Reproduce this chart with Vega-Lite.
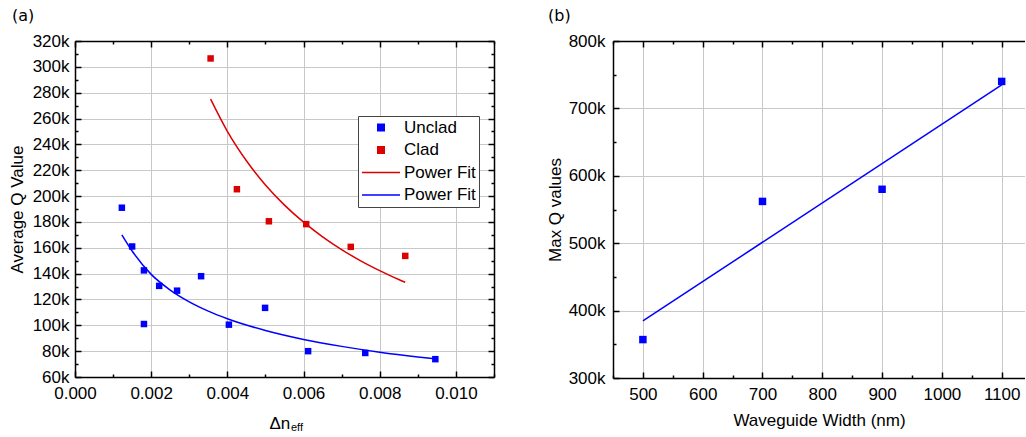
{
  "$schema": "https://vega.github.io/schema/vega-lite/v6.json",
  "background": "white",
  "padding": {"left": 8, "top": 8, "right": 0, "bottom": 0},
  "datasets": {
    "a_pts": [
      {"dn": 0.00123, "q": 191000, "series": "Unclad"},
      {"dn": 0.00150, "q": 161000, "series": "Unclad"},
      {"dn": 0.00181, "q": 142500, "series": "Unclad"},
      {"dn": 0.00181, "q": 101000, "series": "Unclad"},
      {"dn": 0.00221, "q": 130500, "series": "Unclad"},
      {"dn": 0.00268, "q": 126800, "series": "Unclad"},
      {"dn": 0.00331, "q": 138000, "series": "Unclad"},
      {"dn": 0.00404, "q": 100500, "series": "Unclad"},
      {"dn": 0.00499, "q": 113500, "series": "Unclad"},
      {"dn": 0.00612, "q": 80000, "series": "Unclad"},
      {"dn": 0.00762, "q": 78600, "series": "Unclad"},
      {"dn": 0.00946, "q": 73800, "series": "Unclad"},
      {"dn": 0.00356, "q": 306500, "series": "Clad"},
      {"dn": 0.00425, "q": 205300, "series": "Clad"},
      {"dn": 0.00509, "q": 180500, "series": "Clad"},
      {"dn": 0.00607, "q": 178300, "series": "Clad"},
      {"dn": 0.00724, "q": 160700, "series": "Clad"},
      {"dn": 0.00867, "q": 153700, "series": "Clad"}
    ],
    "a_fit": [
      {"dn": 0.00356, "q": 275000, "series": "Power Fit"},
      {"dn": 0.0040, "q": 250100, "series": "Power Fit"},
      {"dn": 0.0045, "q": 227300, "series": "Power Fit"},
      {"dn": 0.0050, "q": 208600, "series": "Power Fit"},
      {"dn": 0.0055, "q": 193000, "series": "Power Fit"},
      {"dn": 0.0060, "q": 179800, "series": "Power Fit"},
      {"dn": 0.0065, "q": 168500, "series": "Power Fit"},
      {"dn": 0.0070, "q": 158600, "series": "Power Fit"},
      {"dn": 0.0075, "q": 149900, "series": "Power Fit"},
      {"dn": 0.0080, "q": 142300, "series": "Power Fit"},
      {"dn": 0.0085, "q": 135400, "series": "Power Fit"},
      {"dn": 0.00867, "q": 133300, "series": "Power Fit"},
      {"dn": 0.00123, "q": 170000, "series": "Power Fit "},
      {"dn": 0.0015, "q": 157500, "series": "Power Fit "},
      {"dn": 0.0020, "q": 139400, "series": "Power Fit "},
      {"dn": 0.0025, "q": 127300, "series": "Power Fit "},
      {"dn": 0.0030, "q": 118200, "series": "Power Fit "},
      {"dn": 0.0035, "q": 111000, "series": "Power Fit "},
      {"dn": 0.0040, "q": 105100, "series": "Power Fit "},
      {"dn": 0.0050, "q": 96000, "series": "Power Fit "},
      {"dn": 0.0060, "q": 89100, "series": "Power Fit "},
      {"dn": 0.0070, "q": 83700, "series": "Power Fit "},
      {"dn": 0.0080, "q": 79200, "series": "Power Fit "},
      {"dn": 0.0090, "q": 75500, "series": "Power Fit "},
      {"dn": 0.00946, "q": 74000, "series": "Power Fit "}
    ],
    "a_sub": [
      {"label": "eff"}
    ],
    "b_pts": [
      {"w": 500, "q": 357000},
      {"w": 700, "q": 562000},
      {"w": 900, "q": 580000},
      {"w": 1100, "q": 740000}
    ],
    "b_fit": [
      {"w": 500, "q": 384700},
      {"w": 1100, "q": 734800}
    ]
  },
  "hconcat": [
    {
      "width": 419,
      "height": 336,
      "title": {"text": "(a)", "anchor": "start", "frame": "group", "dx": -63, "font": "DejaVu Sans", "fontSize": 16, "fontWeight": "normal", "color": "black", "offset": 8},
      "layer": [
        {
          "data": {"name": "a_pts"},
          "mark": {"type": "point", "filled": true, "opacity": 1},
          "encoding": {
            "x": {
              "field": "dn", "type": "quantitative",
              "scale": {"domain": [0, 0.011], "nice": false, "zero": false},
              "axis": {
                "orient": "bottom",
                "values": [0, 0.001, 0.002, 0.003, 0.004, 0.005, 0.006, 0.007, 0.008, 0.009, 0.010, 0.011],
                "labelExpr": "round(datum.value*1000) % 2 == 0 ? format(datum.value, '.3f') : ''",
                "grid": true,
                "gridOpacity": {"condition": {"test": "round(datum.value*1000) % 2 == 0", "value": 1}, "value": 0},
                "tickSize": {"condition": {"test": "round(datum.value*1000) % 2 == 0", "value": -6}, "value": -3},
                "labelPadding": 14,
                "labelFlush": false,
                "title": "Δn",
                "titleAlign": "left",
                "titleBaseline": "alphabetic",
                "titleX": 194,
                "titleY": 51
              }
            },
            "y": {
              "field": "q", "type": "quantitative",
              "scale": {"domain": [60000, 320000], "nice": false, "zero": false},
              "axis": {
                "orient": "left",
                "values": [60000, 70000, 80000, 90000, 100000, 110000, 120000, 130000, 140000, 150000, 160000, 170000, 180000, 190000, 200000, 210000, 220000, 230000, 240000, 250000, 260000, 270000, 280000, 290000, 300000, 310000, 320000],
                "labelExpr": "round(datum.value/10000) % 2 == 0 ? format(datum.value/1000, 'd') + 'k' : ''",
                "grid": true,
                "gridOpacity": {"condition": {"test": "round(datum.value/10000) % 2 == 0", "value": 1}, "value": 0},
                "tickSize": {"condition": {"test": "round(datum.value/10000) % 2 == 0", "value": -6}, "value": -3},
                "labelPadding": 12,
                "labelFlush": false,
                "title": "Average Q Value",
                "titlePadding": 6
              }
            },
            "color": {
              "field": "series", "type": "nominal",
              "scale": {"domain": ["Unclad", "Clad", "Power Fit", "Power Fit "], "range": ["#0000ff", "#dd0000", "#dd0000", "#0000ff"]},
              "legend": {
                "orient": "none", "legendX": 283, "legendY": 75,
                "title": null,
                "strokeColor": "#444444", "fillColor": "white",
                "padding": 3, "rowPadding": 4.5, "clipHeight": 17,
                "labelOffset": 3, "symbolStrokeWidth": 1.5,
                "labelFont": "Liberation Sans", "labelFontSize": 17, "labelColor": "black"
              }
            },
            "shape": {
              "field": "series", "type": "nominal",
              "scale": {"domain": ["Unclad", "Clad", "Power Fit", "Power Fit "], "range": ["square", "square", "stroke", "stroke"]},
              "legend": {
                "orient": "none", "legendX": 283, "legendY": 75,
                "title": null,
                "strokeColor": "#444444", "fillColor": "white",
                "padding": 3, "rowPadding": 4.5, "clipHeight": 17,
                "labelOffset": 3, "symbolStrokeWidth": 1.5,
                "labelFont": "Liberation Sans", "labelFontSize": 17, "labelColor": "black"
              }
            },
            "size": {
              "field": "series", "type": "nominal",
              "scale": {"type": "ordinal", "domain": ["Unclad", "Clad", "Power Fit", "Power Fit "], "range": [42, 42, 1444, 1444]},
              "legend": {
                "orient": "none", "legendX": 283, "legendY": 75,
                "title": null,
                "strokeColor": "#444444", "fillColor": "white",
                "padding": 3, "rowPadding": 4.5, "clipHeight": 17,
                "labelOffset": 3, "symbolStrokeWidth": 1.5,
                "labelFont": "Liberation Sans", "labelFontSize": 17, "labelColor": "black"
              }
            }
          }
        },
        {
          "data": {"name": "a_fit"},
          "mark": {"type": "line", "strokeWidth": 1.5, "interpolate": "monotone"},
          "encoding": {
            "x": {
              "field": "dn", "type": "quantitative",
              "axis": {
                "orient": "top",
                "values": [0, 0.001, 0.002, 0.003, 0.004, 0.005, 0.006, 0.007, 0.008, 0.009, 0.010, 0.011],
                "labels": false, "grid": false, "title": null,
                "tickSize": {"condition": {"test": "round(datum.value*1000) % 2 == 0", "value": -6}, "value": -3}
              }
            },
            "y": {
              "field": "q", "type": "quantitative",
              "axis": {
                "orient": "right",
                "values": [60000, 70000, 80000, 90000, 100000, 110000, 120000, 130000, 140000, 150000, 160000, 170000, 180000, 190000, 200000, 210000, 220000, 230000, 240000, 250000, 260000, 270000, 280000, 290000, 300000, 310000, 320000],
                "labels": false, "grid": false, "title": null,
                "tickSize": {"condition": {"test": "round(datum.value/10000) % 2 == 0", "value": -6}, "value": -3}
              }
            },
            "color": {"field": "series", "type": "nominal"}
          }
        },
        {
          "data": {"name": "a_sub"},
          "mark": {"type": "text", "font": "Liberation Sans", "fontSize": 11, "align": "left", "baseline": "alphabetic", "color": "black"},
          "encoding": {
            "text": {"field": "label"},
            "x": {"datum": 0.00567, "type": "quantitative", "axis": null},
            "y": {"datum": 18000, "type": "quantitative", "axis": null}
          }
        }
      ],
      "resolve": {"axis": {"x": "independent", "y": "independent"}}
    },
    {
      "width": 412,
      "height": 337,
      "title": {"text": "(b)", "anchor": "start", "frame": "group", "dx": -65, "font": "DejaVu Sans", "fontSize": 16, "fontWeight": "normal", "color": "black", "offset": 8},
      "layer": [
        {
          "data": {"name": "b_pts"},
          "mark": {"type": "point", "shape": "square", "filled": true, "size": 56, "color": "#0000ff", "opacity": 1},
          "encoding": {
            "x": {
              "field": "w", "type": "quantitative",
              "scale": {"domain": [450, 1139], "nice": false, "zero": false},
              "axis": {
                "orient": "bottom",
                "values": [450, 500, 550, 600, 650, 700, 750, 800, 850, 900, 950, 1000, 1050, 1100],
                "labelExpr": "datum.value % 100 == 0 ? format(datum.value, 'd') : ''",
                "grid": true,
                "gridOpacity": {"condition": {"test": "datum.value % 100 == 0", "value": 1}, "value": 0},
                "tickSize": {"condition": {"test": "datum.value % 100 == 0", "value": -6}, "value": -3},
                "labelPadding": 14,
                "labelFlush": false,
                "title": "Waveguide Width (nm)",
                "titlePadding": 10
              }
            },
            "y": {
              "field": "q", "type": "quantitative",
              "scale": {"domain": [300000, 800000], "nice": false, "zero": false},
              "axis": {
                "orient": "left",
                "values": [300000, 350000, 400000, 450000, 500000, 550000, 600000, 650000, 700000, 750000, 800000],
                "labelExpr": "datum.value % 100000 == 0 ? format(datum.value/1000, 'd') + 'k' : ''",
                "grid": true,
                "gridOpacity": {"condition": {"test": "datum.value % 100000 == 0", "value": 1}, "value": 0},
                "tickSize": {"condition": {"test": "datum.value % 100000 == 0", "value": -6}, "value": -3},
                "labelPadding": 14,
                "labelFlush": false,
                "title": "Max Q values",
                "titlePadding": 4
              }
            }
          }
        },
        {
          "data": {"name": "b_fit"},
          "mark": {"type": "line", "strokeWidth": 1.5, "color": "#0000ff"},
          "encoding": {
            "x": {
              "field": "w", "type": "quantitative",
              "axis": {
                "orient": "top",
                "values": [450, 500, 550, 600, 650, 700, 750, 800, 850, 900, 950, 1000, 1050, 1100],
                "labels": false, "grid": false, "title": null,
                "tickSize": {"condition": {"test": "datum.value % 100 == 0", "value": -6}, "value": -3}
              }
            },
            "y": {"field": "q", "type": "quantitative", "axis": null}
          }
        }
      ],
      "resolve": {"axis": {"x": "independent", "y": "independent"}}
    }
  ],
  "spacing": 51,
  "resolve": {"scale": {"color": "independent", "shape": "independent", "size": "independent"}, "legend": {"color": "independent", "shape": "independent", "size": "independent"}},
  "config": {
    "view": {"stroke": null},
    "axis": {
      "labelFont": "Liberation Sans", "labelFontSize": 17, "labelColor": "black",
      "titleFont": "Liberation Sans", "titleFontSize": 17, "titleFontWeight": "normal", "titleColor": "black",
      "domain": true, "domainColor": "black", "domainWidth": 1.5,
      "ticks": true, "tickColor": "black", "tickWidth": 1.5,
      "gridColor": "#c8c8c8", "gridWidth": 1
    }
  }
}
